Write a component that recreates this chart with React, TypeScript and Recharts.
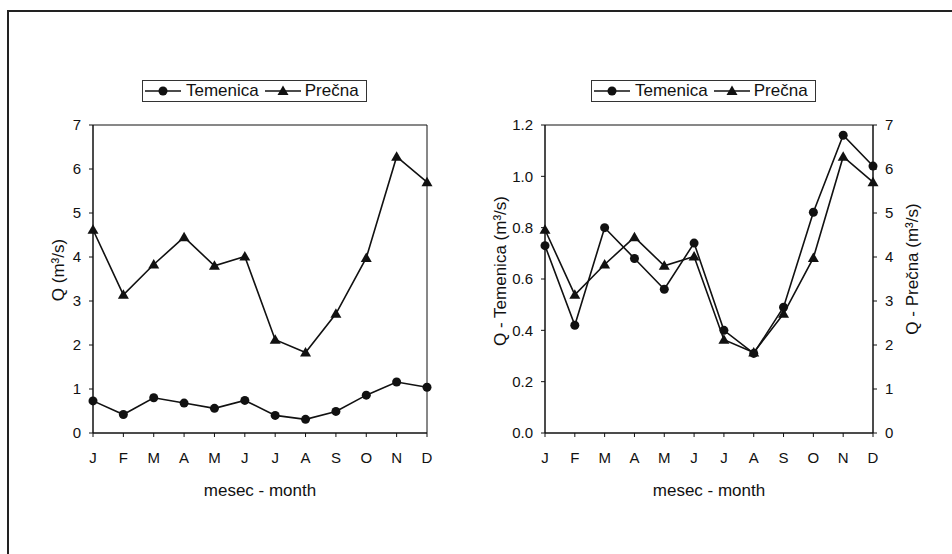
import { LineChart, Line, XAxis, YAxis, ReferenceArea, Label } from "recharts";

const months = ["J", "F", "M", "A", "M", "J", "J", "A", "S", "O", "N", "D"];
const temenica = [0.73, 0.42, 0.8, 0.68, 0.56, 0.74, 0.4, 0.31, 0.49, 0.86, 1.16, 1.04];
const precna = [4.62, 3.14, 3.83, 4.45, 3.8, 4.01, 2.12, 1.83, 2.71, 3.98, 6.28, 5.7];
const qTicks = [0, 1, 2, 3, 4, 5, 6, 7];
const temTicks = [0, 0.2, 0.4, 0.6, 0.8, 1.0, 1.2];

const rows = months.map((m, i) => ({ m, t: temenica[i], p: precna[i] }));

const FONT = "'Liberation Sans', Arial, sans-serif";
const INK = "#111";
const tickStyle = { fontSize: 15, fill: INK, fontFamily: FONT };
const labelStyle = { fontSize: 17, fill: INK, fontFamily: FONT, textAnchor: "middle" as const };

function Circle(p: any) {
  if (p.cx == null || p.cy == null) return <g key={p.index} />;
  return <circle key={p.index} cx={p.cx} cy={p.cy} r={4.5} fill={INK} />;
}

function Tri(p: any) {
  if (p.cx == null || p.cy == null) return <g key={p.index} />;
  const { cx, cy } = p;
  return <path key={p.index} d={`M${cx},${cy - 5.5} L${cx + 5.5},${cy + 4} L${cx - 5.5},${cy + 4} Z`} fill={INK} />;
}

function LegendBox({ left, top }: { left: number; top: number }) {
  const sym = (kind: "c" | "t") => (
    <svg width={36} height={14} style={{ display: "block", flex: "none" }}>
      <line x1={0} y1={7} x2={36} y2={7} stroke={INK} strokeWidth={1.5} />
      {kind === "c" ? <circle cx={18} cy={7} r={4.5} fill={INK} /> : <path d="M18,1.5 L23.5,11 L12.5,11 Z" fill={INK} />}
    </svg>
  );
  return (
    <div
      style={{
        position: "absolute",
        left,
        top,
        width: 225,
        height: 22,
        border: "1px solid #333",
        display: "flex",
        alignItems: "center",
        fontFamily: FONT,
        fontSize: 17,
        color: INK,
        boxSizing: "border-box",
        paddingLeft: 2,
        whiteSpace: "nowrap",
      }}
    >
      {sym("c")}
      <span style={{ marginLeft: 5, marginRight: 6 }}>Temenica</span>
      {sym("t")}
      <span style={{ marginLeft: 4 }}>Prečna</span>
    </div>
  );
}

export default function App() {
  return (
    <div style={{ position: "absolute", left: 0, top: 0, width: 952, height: 554, background: "#fff", overflow: "hidden" }}>
      <div style={{ position: "absolute", left: 7, top: 10, width: 1000, height: 1000, border: "2px solid #222" }} />

      <div style={{ position: "absolute", left: 0, top: 0 }}>
        <LineChart width={476} height={554} data={rows} margin={{ top: 125, right: 49, bottom: 53, left: 33 }}>
          <XAxis dataKey="m" height={68} tick={tickStyle} tickSize={4} tickMargin={15} axisLine={{ stroke: INK }} tickLine={{ stroke: INK }} interval={0}>
            <Label value="mesec - month" position="insideBottom" offset={5} style={labelStyle} />
          </XAxis>
          <YAxis width={60} domain={[0, 7]} ticks={qTicks} interval={0} tick={tickStyle} tickSize={4} tickMargin={8} axisLine={{ stroke: INK }} tickLine={{ stroke: INK }}>
            <Label value="Q (m³/s)" angle={-90} position="insideLeft" offset={25} dy={-9} style={labelStyle} />
          </YAxis>
          <ReferenceArea y1={0} y2={7} fill="none" stroke={INK} strokeWidth={1} />
          <Line dataKey="p" stroke={INK} strokeWidth={1.6} dot={Tri} activeDot={false} isAnimationActive={false} />
          <Line dataKey="t" stroke={INK} strokeWidth={1.6} dot={Circle} activeDot={false} isAnimationActive={false} />
        </LineChart>
      </div>

      <div style={{ position: "absolute", left: 476, top: 0 }}>
        <LineChart width={476} height={554} data={rows} margin={{ top: 125, right: 19, bottom: 53, left: 9 }}>
          <XAxis dataKey="m" height={68} tick={tickStyle} tickSize={4} tickMargin={15} axisLine={{ stroke: INK }} tickLine={{ stroke: INK }} interval={0}>
            <Label value="mesec - month" position="insideBottom" offset={5} style={labelStyle} />
          </XAxis>
          <YAxis yAxisId="l" width={60} domain={[0, 1.2]} ticks={temTicks} interval={0} tickFormatter={(v: number) => v.toFixed(1)} tick={tickStyle} tickSize={4} tickMargin={8} axisLine={{ stroke: INK }} tickLine={{ stroke: INK }}>
            <Label value="Q - Temenica (m³/s)" angle={-90} position="insideLeft" offset={15} dy={-8} style={labelStyle} />
          </YAxis>
          <YAxis yAxisId="r" orientation="right" width={60} domain={[0, 7]} ticks={qTicks} interval={0} tick={tickStyle} tickSize={4} tickMargin={8} axisLine={{ stroke: INK }} tickLine={{ stroke: INK }}>
            <Label value="Q - Prečna (m³/s)" angle={-90} position="insideRight" offset={21} dy={-10} style={labelStyle} />
          </YAxis>
          <ReferenceArea yAxisId="l" y1={0} y2={1.2} fill="none" stroke={INK} strokeWidth={1} />
          <Line yAxisId="r" dataKey="p" stroke={INK} strokeWidth={1.6} dot={Tri} activeDot={false} isAnimationActive={false} />
          <Line yAxisId="l" dataKey="t" stroke={INK} strokeWidth={1.6} dot={Circle} activeDot={false} isAnimationActive={false} />
        </LineChart>
      </div>

      <LegendBox left={142} top={80} />
      <LegendBox left={591} top={80} />
    </div>
  );
}
